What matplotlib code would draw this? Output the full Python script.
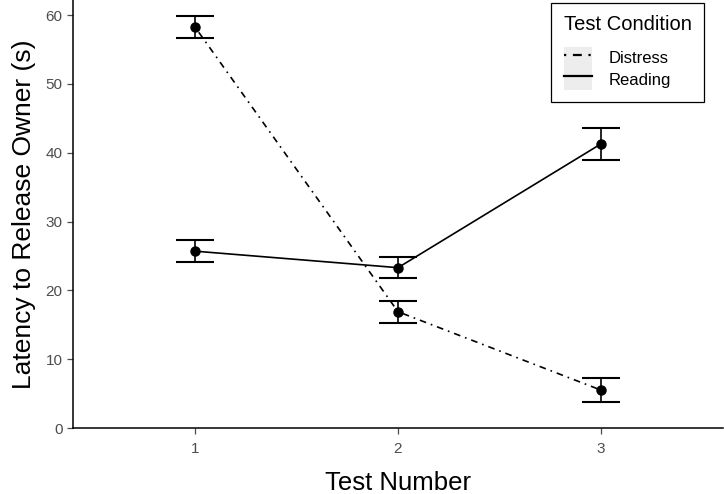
import matplotlib
matplotlib.use("Agg")
import matplotlib.pyplot as plt
from matplotlib.lines import Line2D
from matplotlib.patches import Patch

# data
tests = [1, 2, 3]
distress_mean = [58.3, 16.9, 5.5]
distress_se = [1.6, 1.6, 1.7]
reading_mean = [25.7, 23.3, 41.3]
reading_se = [1.6, 1.5, 2.3]
conditions = ["Distress", "Reading"]

plt.rcParams["font.family"] = ["Liberation Sans", "DejaVu Sans"]

DOTDASH = (0, (1, 3, 4, 3))
GREY = "#4D4D4D"

fig = plt.figure(figsize=(7.24, 4.94), dpi=100)
ax = fig.add_axes([73 / 724, 66 / 494, 650 / 724, 428 / 494])

for mean, se, ls in [(distress_mean, distress_se, DOTDASH),
                     (reading_mean, reading_se, "-")]:
    ax.plot(tests, mean, color="black", lw=1.2, linestyle=ls, zorder=2)
    ax.errorbar(tests, mean, yerr=se, fmt="none", ecolor="black",
                elinewidth=1.2, capsize=14, capthick=1.5, zorder=3)
    ax.plot(tests, mean, "o", color="black", ms=6.5, zorder=4)

ax.set_xlim(0.4, 3.6)
ax.set_ylim(0, 62.2)
ax.set_xticks(tests)
ax.set_yticks(range(0, 61, 10))

for side in ["top", "right"]:
    ax.spines[side].set_visible(False)
for side in ["left", "bottom"]:
    ax.spines[side].set_linewidth(1.1)
ax.tick_params(colors=GREY, labelcolor=GREY, labelsize=11, length=4, width=0.9)
ax.tick_params(axis="x", pad=6)

ax.set_xlabel("Test Number", fontsize=18.5, labelpad=11)
ax.set_ylabel("Latency to Release Owner (s)", fontsize=19, labelpad=7)

key_bg = "#EDEDED"
handles = [
    (Patch(facecolor=key_bg, edgecolor="none"),
     Line2D([], [], color="black", lw=1.6, linestyle=DOTDASH)),
    (Patch(facecolor=key_bg, edgecolor="none"),
     Line2D([], [], color="black", lw=1.6, linestyle="-")),
]
leg = fig.legend(handles, conditions, title="Test Condition",
                 loc="upper right", bbox_to_anchor=(704 / 724, 1 - 3 / 494),
                 fontsize=12, title_fontsize=14.5, frameon=True, fancybox=False,
                 edgecolor="black", framealpha=1, handlelength=1.7,
                 handleheight=1.6, labelspacing=0.0, handletextpad=1.0,
                 borderpad=0.75, borderaxespad=0)
leg.get_frame().set_linewidth(0.9)
leg._legend_box.align = "left"
leg._legend_box.sep = 9

fig.savefig("out.png", dpi=100)
